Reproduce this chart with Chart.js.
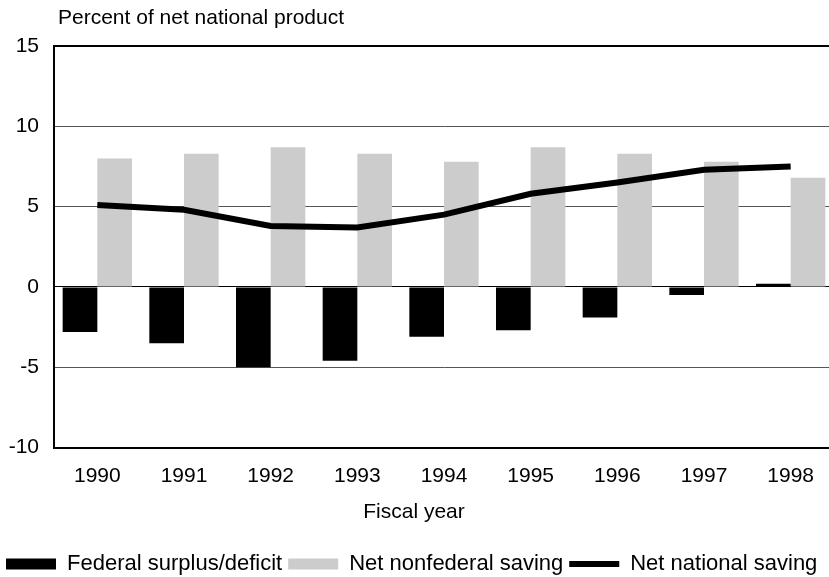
<!DOCTYPE html>
<html>
<head>
  <meta charset="utf-8">
  <title>Federal and national saving</title>
  <script src="https://cdn.jsdelivr.net/npm/chart.js@4.4.0/dist/chart.umd.min.js"></script>
  <style>
    body {
      margin: 0;
      background: #fff;
      overflow: hidden;
    }
    #wrap {
      width: 829px;
      height: 577px;
      overflow: hidden;
    }
  </style>
</head>
<body>
  <div id="wrap"><canvas id="savingChart" width="834" height="585"></canvas></div>

  <script>
    // data
    const years = ['1990', '1991', '1992', '1993', '1994', '1995', '1996', '1997', '1998'];
    const federalSurplus = [-2.8, -3.5, -5.0, -4.6, -3.1, -2.7, -1.9, -0.5, 0.2];
    const nonfederalSaving = [8.0, 8.3, 8.7, 8.3, 7.8, 8.7, 8.3, 7.8, 6.8];
    const nationalSaving = [5.1, 4.8, 3.8, 3.7, 4.5, 5.8, 6.5, 7.3, 7.5];
    const yTicks = [-10, -5, 0, 5, 10, 15];
    const seriesNames = ['Federal surplus/deficit', 'Net nonfederal saving', 'Net national saving'];
    const yTitle = 'Percent of net national product';
    const xTitle = 'Fiscal year';

    const FONT = '"Liberation Sans", Arial, sans-serif';
    Chart.defaults.font.family = FONT;
    Chart.defaults.color = '#000';

    // axis captions sit outside the usual title spots
    const captions = {
      id: 'captions',
      afterDraw(chart) {
        const { ctx, chartArea } = chart;
        ctx.save();
        ctx.fillStyle = '#000';
        ctx.font = '21px ' + FONT;
        ctx.textBaseline = 'middle';
        ctx.textAlign = 'left';
        ctx.fillText(yTitle, chartArea.left + 4, 18);
        ctx.textAlign = 'center';
        ctx.fillText(xTitle, 414, chartArea.bottom + 65);
        ctx.restore();
      }
    };

    const ctx = document.getElementById('savingChart').getContext('2d');
    new Chart(ctx, {
      type: 'bar',
      data: {
        labels: years,
        datasets: [
          {
            label: seriesNames[0],
            data: federalSurplus,
            backgroundColor: '#000',
            order: 2
          },
          {
            label: seriesNames[1],
            data: nonfederalSaving,
            backgroundColor: '#cccccc',
            order: 2
          },
          {
            type: 'line',
            label: seriesNames[2],
            data: nationalSaving,
            borderColor: '#000',
            borderWidth: 6,
            pointRadius: 0,
            tension: 0,
            order: 1
          }
        ]
      },
      options: {
        responsive: false,
        animation: false,
        layout: { padding: { top: 46, left: 0, right: 0, bottom: 0 } },
        datasets: {
          bar: { categoryPercentage: 0.8, barPercentage: 1.0 }
        },
        scales: {
          x: {
            grid: { display: false },
            border: { display: true, color: '#000', width: 2 },
            ticks: { padding: 8, font: { size: 21 }, color: '#000' },
            title: {
              display: true,
              text: xTitle,
              color: 'rgba(0,0,0,0)',
              font: { size: 21 },
              padding: { top: 0, bottom: 25 }
            }
          },
          y: {
            min: -10,
            max: 15,
            afterBuildTicks: s => { s.ticks = yTicks.map(v => ({ value: v })); },
            afterFit: s => { s.width = 54; },
            border: { display: true, color: '#000', width: 2 },
            grid: {
              drawTicks: false,
              color: c => (c.tick && (c.tick.value === 0 || c.tick.value === 15)) ? '#000' : '#555',
              lineWidth: c => (c.tick && c.tick.value === 15) ? 2 : 1
            },
            ticks: { padding: 15, font: { size: 21 }, color: '#000' }
          }
        },
        plugins: {
          tooltip: { enabled: false },
          legend: {
            position: 'bottom',
            align: 'start',
            labels: {
              usePointStyle: true,
              pointStyleWidth: 50,
              boxHeight: 11,
              padding: 6,
              font: { size: 22 },
              color: '#000',
              generateLabels: () => [
                { text: seriesNames[0], fillStyle: '#000', strokeStyle: '#000', lineWidth: 0, pointStyle: 'rect', datasetIndex: 0 },
                { text: seriesNames[1], fillStyle: '#cccccc', strokeStyle: '#cccccc', lineWidth: 0, pointStyle: 'rect', datasetIndex: 1 },
                { text: seriesNames[2], fillStyle: '#000', strokeStyle: '#000', lineWidth: 6, pointStyle: 'line', datasetIndex: 2 }
              ]
            }
          }
        }
      },
      plugins: [captions]
    });
  </script>
</body>
</html>
